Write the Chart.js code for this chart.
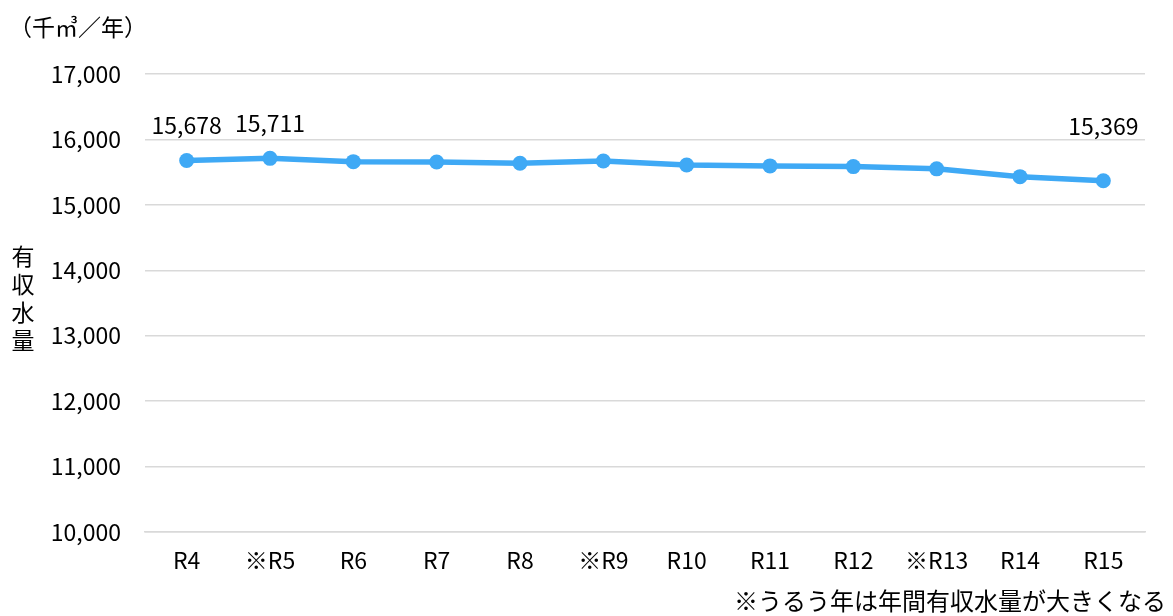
<!DOCTYPE html>
<html lang="ja">
<head>
<meta charset="utf-8">
<script src="https://cdn.jsdelivr.net/npm/chart.js@4"></script>
<style>
  body { margin: 0; background: #fff; font-family: "Noto Sans CJK JP", sans-serif; color: #000; }
  #wrap { position: relative; width: 1173px; height: 616px; }
  .note { position: absolute; white-space: nowrap; }
  #unit { left: 9px; top: 9px; font-size: 23px; }
  #ytitle { left: 10px; top: 241px; width: 26px; line-height: 28px; font-size: 23px; text-align: center; }
  #foot { right: 7px; top: 584px; font-size: 24px; line-height: 32px; }
</style>
</head>
<body>
<div id="wrap">
  <canvas id="waterChart"></canvas>
  <div class="note" id="unit">（千㎥／年）</div>
  <div class="note" id="ytitle">有<br>収<br>水<br>量</div>
  <div class="note" id="foot">※うるう年は年間有収水量が大きくなる</div>
</div>
<script>
// 年度別 有収水量
const years = ["R4", "※R5", "R6", "R7", "R8", "※R9", "R10", "R11", "R12", "※R13", "R14", "R15"];
const volume = [15678, 15711, 15660, 15655, 15635, 15670, 15610, 15595, 15585, 15550, 15431, 15369];
const labelled = [0, 1, 11]; // 値を表示する点
const yTicks = [10000, 11000, 12000, 13000, 14000, 15000, 16000, 17000];

const lineBlue = "#3fa9f5";
const fontName = "'Noto Sans CJK JP', sans-serif";

// 選んだ点の上に数値（高さはそろえる）
const pointLabels = {
  id: "pointLabels",
  afterDatasetsDraw(chart) {
    const ctx = chart.ctx;
    const meta = chart.getDatasetMeta(0);
    const top = Math.min(...labelled.map((i) => meta.data[i].y));
    ctx.save();
    ctx.font = "23px " + fontName;
    ctx.fillStyle = "#000";
    ctx.textAlign = "center";
    ctx.textBaseline = "middle";
    labelled.forEach((i) => {
      const p = meta.data[i];
      ctx.fillText(volume[i].toLocaleString("en-US"), p.x, Math.min(p.y, top + 3) - 35);
    });
    ctx.restore();
  },
};

const canvas = document.getElementById("waterChart");
canvas.width = 1173;
canvas.height = 616;

new Chart(canvas, {
  type: "line",
  data: {
    labels: years,
    datasets: [
      {
        data: volume,
        borderColor: lineBlue,
        backgroundColor: lineBlue,
        borderWidth: 5.5,
        pointRadius: 7.5,
        pointBackgroundColor: lineBlue,
        pointBorderWidth: 0,
        tension: 0,
      },
    ],
  },
  options: {
    responsive: false,
    animation: false,
    layout: { padding: { left: 0, right: 28, top: 74, bottom: 0 } },
    plugins: {
      legend: { display: false },
      tooltip: { enabled: false },
    },
    scales: {
      x: {
        offset: true,
        grid: { display: false, drawTicks: false, offset: true },
        border: { display: true, color: "#d9d9d9", width: 1.5 },
        ticks: { color: "#000", font: { family: fontName, size: 23 }, padding: 14, maxRotation: 0 },
        afterFit(scale) { scale.height = 84; },
      },
      y: {
        min: 10000,
        max: 17000,
        afterBuildTicks(scale) { scale.ticks = yTicks.map((v) => ({ value: v })); },
        grid: { color: "#d9d9d9", lineWidth: 1.5, drawTicks: false },
        border: { display: false },
        ticks: {
          color: "#000",
          font: { family: fontName, size: 23 },
          padding: 24,
          callback: (v) => v.toLocaleString("en-US"),
        },
        afterFit(scale) { scale.width = 145; },
      },
    },
  },
  plugins: [pointLabels],
});
</script>
</body>
</html>
